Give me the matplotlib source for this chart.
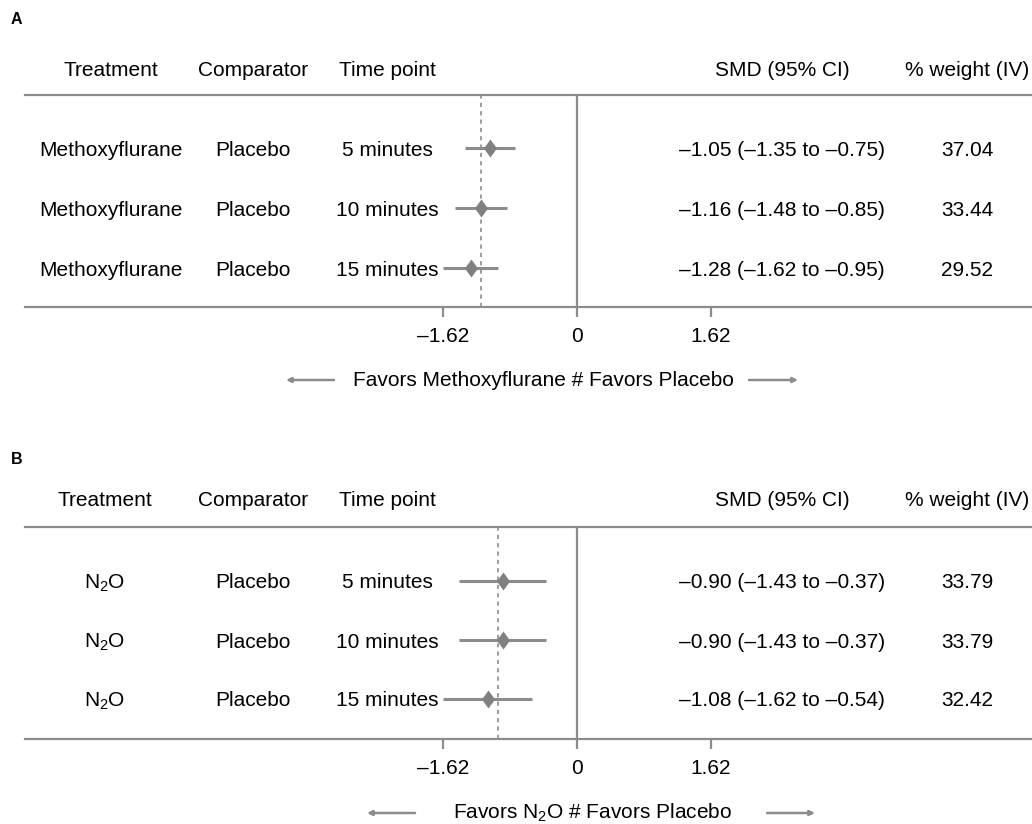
import matplotlib
matplotlib.use("Agg")
import matplotlib.pyplot as plt
import matplotlib.transforms as mtrans
from matplotlib.patches import FancyArrowPatch

plt.rcParams.update({
    "font.family": ["Liberation Sans", "DejaVu Sans"],
    "mathtext.fontset": "custom",
    "mathtext.rm": "Liberation Sans",
    "mathtext.default": "regular",
})

W, H = 1032, 824  # pixels
GREY = "#8c8c8c"
MARK = "#808080"
FS = 15
DIAMOND = [(0, 1), (0.72, 0), (0, -1), (-0.72, 0), (0, 1)]

# ---- data ----
headers = ["Treatment", "Comparator", "Time point", "SMD (95% CI)", "% weight (IV)"]
time_points = ["5 minutes", "10 minutes", "15 minutes"]
comparator = "Placebo"
ticks = [-1.62, 0, 1.62]

treat_a = "Methoxyflurane"
smd_a = [-1.05, -1.16, -1.28]
lo_a = [-1.35, -1.48, -1.62]
hi_a = [-0.75, -0.85, -0.95]
wt_a = [37.04, 33.44, 29.52]
pooled_a = -1.16

treat_b = "N$_2$O"
smd_b = [-0.90, -0.90, -1.08]
lo_b = [-1.43, -1.43, -1.62]
hi_b = [-0.37, -0.37, -0.54]
wt_b = [33.79, 33.79, 32.42]
pooled_b = -0.96

ZERO_PX, PX_PER_UNIT = 577, 82.7


def dash(v):
    return f"{v:.2f}".replace("-", "\u2013")


def panel(fig, letter, treat, smd, lo, hi, wt, pooled, lay):
    top, bot, r1, r3 = lay["top"], lay["bot"], lay["r1"], lay["r3"]
    sp = (r3 - r1) / 2.0
    ax = fig.add_axes([25 / W, 1 - bot / H, 1 - 25 / W, (bot - top) / H])
    ax.set_xlim((25 - ZERO_PX) / PX_PER_UNIT, (W - ZERO_PX) / PX_PER_UNIT)
    ax.set_ylim(3 + (bot - r3) / sp, 1 - (r1 - top) / sp)
    for s in ("left", "right"):
        ax.spines[s].set_visible(False)
    for s in ("top", "bottom"):
        ax.spines[s].set_color(GREY)
        ax.spines[s].set_linewidth(1.6)
    ax.set_yticks([])
    ax.set_xticks(ticks)
    ax.set_xticklabels([dash(t) if t else "0" for t in ticks], fontsize=FS)
    ax.tick_params(axis="x", direction="out", length=7.5, width=1.6, color=GREY, pad=7)
    ax.set_facecolor("none")

    ax.axvline(0, color=GREY, lw=1.6, zorder=1)
    ax.axvline(pooled, color=GREY, lw=1.2, ls=(0, (2.5, 2.5)), zorder=1)

    rows = [1, 2, 3]
    ax.hlines(rows, lo, hi, color=GREY, lw=2.2, zorder=2)
    ax.plot(smd, rows, ls="none", marker=DIAMOND, ms=13, mew=0, color=MARK, zorder=3)

    tr = mtrans.blended_transform_factory(fig.transFigure, ax.transData)
    cols = [lay["tx"], 253, 387, 782, 967]
    hy = 1 - (r1 - lay["head"]) / sp
    for x, h in zip(cols, headers):
        ax.text(x / W, hy, h, transform=tr, ha="center", va="center_baseline",
                fontsize=FS, clip_on=False)
    for r, tp, s, l, h, w in zip(rows, time_points, smd, lo, hi, wt):
        vals = [treat, comparator, tp, f"{dash(s)} ({dash(l)} to {dash(h)})", f"{w:.2f}"]
        for x, v in zip(cols, vals):
            ax.text(x / W, r, v, transform=tr, ha="center", va="center_baseline",
                    fontsize=FS, clip_on=False)

    # panel letter
    fig.text(11 / W, 1 - lay["lab"] / H, letter, ha="left", va="center",
             fontsize=11.5, fontweight="bold")

    # favours line with arrows
    fy = 1 - lay["fav"] / H
    fig.text(lay["fx"] / W, fy, lay["ftxt"], ha="center", va="center", fontsize=FS)
    aprops = dict(arrowstyle="-|>", color=GREY, lw=1.8, mutation_scale=7,
                  shrinkA=0, shrinkB=0)
    la, ra = lay["larr"], lay["rarr"]
    fig.add_artist(FancyArrowPatch((la[1] / W, fy), (la[0] / W, fy),
                                   transform=fig.transFigure, **aprops))
    fig.add_artist(FancyArrowPatch((ra[0] / W, fy), (ra[1] / W, fy),
                                   transform=fig.transFigure, **aprops))
    return ax


fig = plt.figure(figsize=(W / 100, H / 100), dpi=100)

panel(fig, "A", treat_a, smd_a, lo_a, hi_a, wt_a, pooled_a,
      dict(lab=20, head=68, top=95, r1=148, r3=268, bot=307, fav=380, tx=111,
           fx=543, ftxt="Favors Methoxyflurane # Favors Placebo",
           larr=(286, 334), rarr=(749, 798)))
panel(fig, "B", treat_b, smd_b, lo_b, hi_b, wt_b, pooled_b,
      dict(lab=460, head=498, top=527, r1=581, r3=699, bot=739, fav=813, tx=105,
           fx=593, ftxt="Favors N$_2$O # Favors Placebo",
           larr=(367, 415), rarr=(767, 815)))

fig.savefig("out.png", dpi=100)
